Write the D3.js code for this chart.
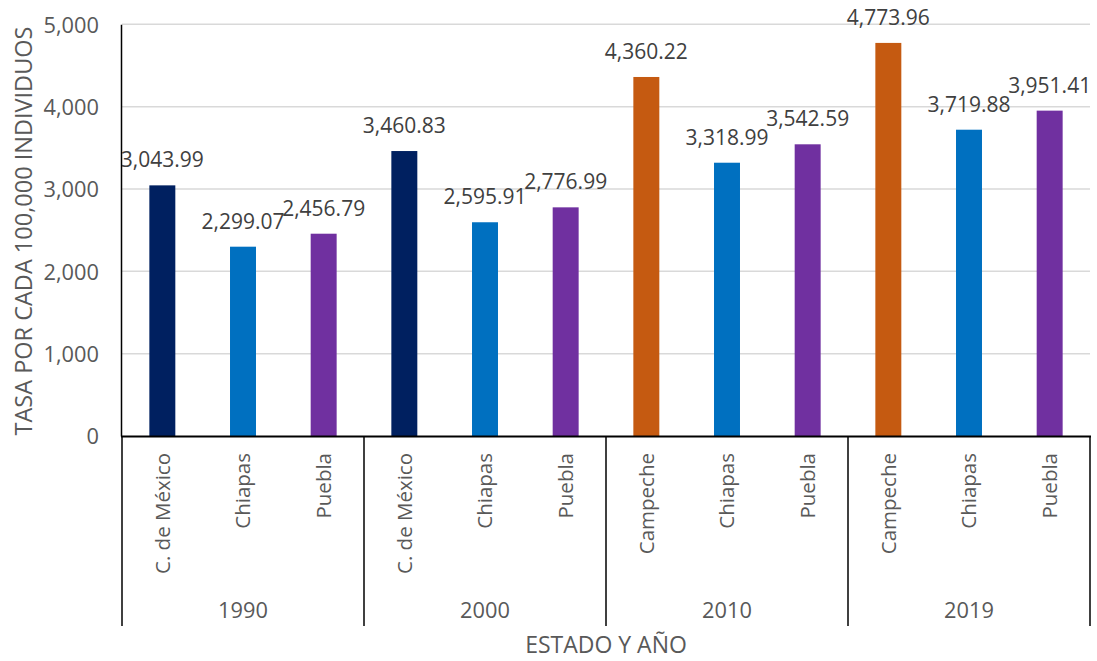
<!DOCTYPE html>
<html>
<head>
<meta charset="utf-8">
<script src="https://cdn.jsdelivr.net/npm/d3@7"></script>
<style>
  html, body { margin: 0; padding: 0; background: #fff; }
  svg { display: block; }
  text { font-family: "Open Sans", "Noto Sans", sans-serif; }
</style>
</head>
<body>
<svg id="chart" width="1097" height="661"></svg>
<script>
// Rates per 100,000 inhabitants, by census year and state
const years = ["1990", "2000", "2010", "2019"];
const states = [
  ["C. de México", "Chiapas", "Puebla"],
  ["C. de México", "Chiapas", "Puebla"],
  ["Campeche", "Chiapas", "Puebla"],
  ["Campeche", "Chiapas", "Puebla"]
];
const values = [
  [3043.99, 2299.07, 2456.79],
  [3460.83, 2595.91, 2776.99],
  [4360.22, 3318.99, 3542.59],
  [4773.96, 3719.88, 3951.41]
];
const yTicks = [0, 1000, 2000, 3000, 4000, 5000];
const stateColors = {
  "C. de México": "#002060",
  "Campeche": "#C55A11",
  "Chiapas": "#0070C0",
  "Puebla": "#7030A0"
};

const rows = [];
years.forEach((yr, gi) => {
  states[gi].forEach((st, si) => {
    rows.push({ year: yr, state: st, idx: si, value: values[gi][si] });
  });
});

const svg = d3.select("#chart");
const plotL = 122, plotR = 1090, plotT = 24.3, plotB = 436;

const x0 = d3.scaleBand().domain(years).range([plotL, plotR]).padding(0);
const x1 = d3.scaleBand().domain([0, 1, 2]).range([0, x0.bandwidth()])
  .paddingInner(0.678).paddingOuter(0.339);
const y = d3.scaleLinear().domain([0, 5000]).range([plotB, plotT]);

// horizontal gridlines
svg.append("g")
  .selectAll("line")
  .data(yTicks.filter(d => d > 0))
  .join("line")
  .attr("x1", plotL).attr("x2", plotR)
  .attr("y1", d => y(d)).attr("y2", d => y(d))
  .attr("stroke", "#d9d9d9").attr("stroke-width", 1.5);

// y axis
const yAxis = svg.append("g")
  .attr("transform", `translate(${plotL - 1},0)`)
  .call(d3.axisLeft(y).tickValues(yTicks).tickFormat(d3.format(",")).tickSize(0).tickPadding(22));
yAxis.select(".domain").attr("stroke", "#000").attr("stroke-width", 1.5);
yAxis.selectAll("text")
  .attr("fill", "#595959").style("font-size", "21.8px")
  .attr("dy", "0.36em");

// bars
svg.append("g")
  .selectAll("rect")
  .data(rows)
  .join("rect")
  .attr("x", d => x0(d.year) + x1(d.idx))
  .attr("width", x1.bandwidth())
  .attr("y", d => y(d.value))
  .attr("height", d => y(0) - y(d.value))
  .attr("fill", d => stateColors[d.state]);

// value labels, clipped to the plotting area
svg.append("clipPath").attr("id", "plotClip")
  .append("rect").attr("x", plotL).attr("y", 0).attr("width", 1097 - plotL).attr("height", plotB);
svg.append("g")
  .attr("clip-path", "url(#plotClip)")
  .selectAll("text")
  .data(rows)
  .join("text")
  .attr("x", d => x0(d.year) + x1(d.idx) + x1.bandwidth() / 2)
  .attr("y", d => y(d.value) - 18)
  .attr("text-anchor", "middle")
  .attr("fill", "#404040")
  .style("font-size", "21px")
  .text(d => d3.format(",.2f")(d.value));

// x axis baseline
svg.append("line")
  .attr("x1", plotL - 1).attr("x2", plotR + 1)
  .attr("y1", plotB + 0.5).attr("y2", plotB + 0.5)
  .attr("stroke", "#000").attr("stroke-width", 2);

// group separators
const seps = years.map(yr => x0(yr)).concat([plotR]);
svg.append("g")
  .selectAll("line")
  .data(seps)
  .join("line")
  .attr("x1", d => d).attr("x2", d => d)
  .attr("y1", plotB).attr("y2", 626)
  .attr("stroke", "#000").attr("stroke-width", 1.5);

// state labels (rotated)
svg.append("g")
  .selectAll("text")
  .data(rows)
  .join("text")
  .attr("transform", d => `translate(${x0(d.year) + x1(d.idx) + x1.bandwidth() / 2},453) rotate(-90)`)
  .attr("text-anchor", "end")
  .attr("dy", "0.35em")
  .attr("fill", "#595959")
  .style("font-size", "20.5px")
  .text(d => d.state);

// year labels
svg.append("g")
  .selectAll("text")
  .data(years)
  .join("text")
  .attr("x", d => x0(d) + x0.bandwidth() / 2)
  .attr("y", 618)
  .attr("text-anchor", "middle")
  .attr("fill", "#595959")
  .style("font-size", "21.8px")
  .text(d => d);

// axis titles
svg.append("text")
  .attr("x", (plotL + plotR) / 2)
  .attr("y", 653)
  .attr("text-anchor", "middle")
  .attr("fill", "#595959")
  .style("font-size", "23px")
  .text("ESTADO Y AÑO");

svg.append("text")
  .attr("transform", "translate(32,231) rotate(-90)")
  .attr("text-anchor", "middle")
  .attr("fill", "#595959")
  .style("font-size", "23.5px")
  .text("TASA POR CADA 100,000 INDIVIDUOS");
</script>
</body>
</html>
